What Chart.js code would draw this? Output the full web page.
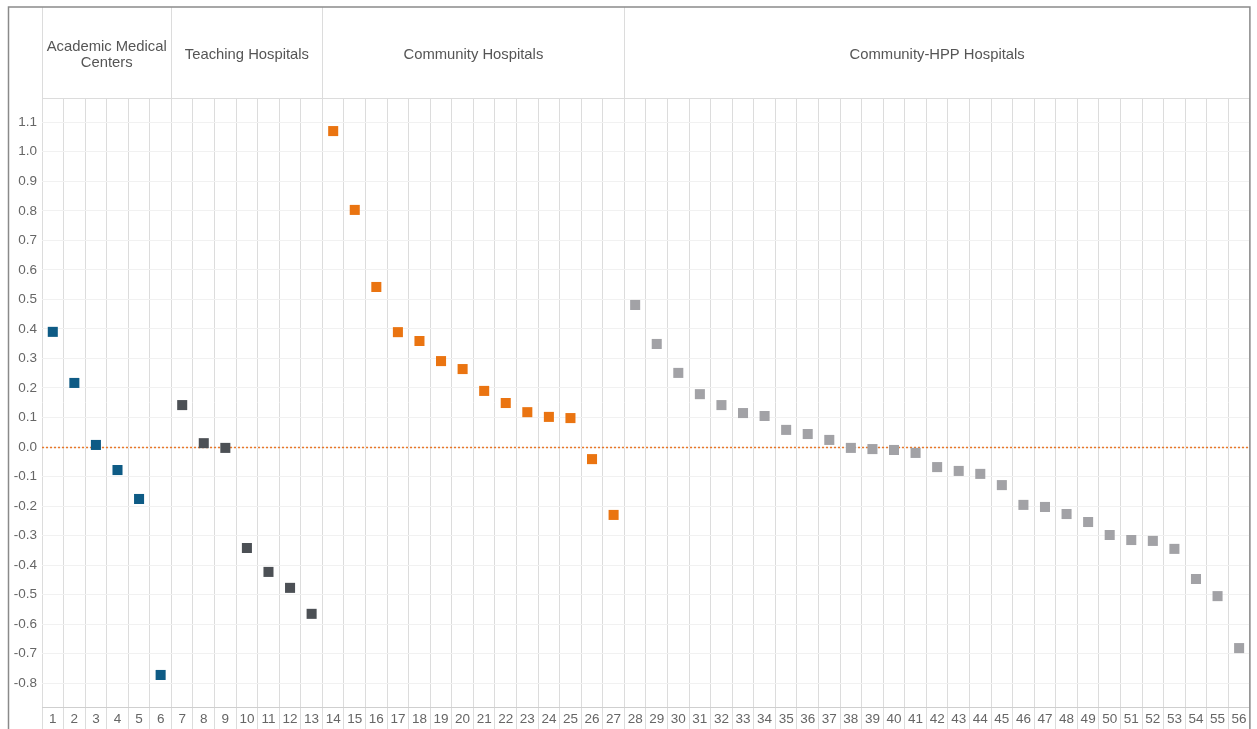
<!DOCTYPE html>
<html>
<head>
<meta charset="utf-8">
<script src="https://cdn.jsdelivr.net/npm/chart.js@4.4.1/dist/chart.umd.min.js"></script>
<style>
  html, body { margin: 0; padding: 0; background: #fff; overflow: hidden; }
  #chart { display: block; }
</style>
</head>
<body>
<canvas id="chart" width="1257" height="729"></canvas>
<script>
const hospitalIds = ['1', '2', '3', '4', '5', '6', '7', '8', '9', '10', '11', '12', '13', '14',
  '15', '16', '17', '18', '19', '20', '21', '22', '23', '24', '25', '26', '27', '28',
  '29', '30', '31', '32', '33', '34', '35', '36', '37', '38', '39', '40', '41', '42',
  '43', '44', '45', '46', '47', '48', '49', '50', '51', '52', '53', '54', '55', '56'];

const groupNames = ['Academic Medical Centers', 'Teaching Hospitals', 'Community Hospitals', 'Community-HPP Hospitals'];
const groupSizes = [6, 7, 14, 29];
const groupColors = ['#0e5b85', '#4c5055', '#ea7411', '#a2a2a6'];

const academicValues = [0.39, 0.217, 0.007, -0.078, -0.176, -0.772];
const teachingValues = [0.142, 0.013, -0.003, -0.342, -0.423, -0.477, -0.565];
const communityValues = [1.07, 0.803, 0.542, 0.389, 0.359, 0.291, 0.264, 0.19, 0.149, 0.118,
  0.102, 0.098, -0.041, -0.23];
const hppValues = [0.481, 0.349, 0.251, 0.179, 0.142, 0.115, 0.105, 0.058, 0.044, 0.024,
  -0.003, -0.007, -0.01, -0.02, -0.068, -0.081, -0.091, -0.129, -0.196, -0.203,
  -0.227, -0.254, -0.298, -0.315, -0.318, -0.345, -0.447, -0.505, -0.681];

const FONT = '"Liberation Sans", Arial, sans-serif';

// one dataset per group, placed on its run of hospital ids
const groupValues = [academicValues, teachingValues, communityValues, hppValues];
let start = 0;
const datasets = groupValues.map((vals, g) => {
  const pts = vals.map((v, i) => ({ x: hospitalIds[start + i], y: v }));
  start += groupSizes[g];
  return {
    label: groupNames[g],
    data: pts,
    showLine: false,
    pointStyle: 'rect',
    pointRadius: 7.1,
    pointHoverRadius: 7.1,
    pointBorderWidth: 0,
    pointBackgroundColor: groupColors[g],
    borderColor: groupColors[g]
  };
});

function wrapText(ctx, text, maxW) {
  const words = text.split(' ');
  const lines = [];
  let line = '';
  words.forEach(w => {
    const test = line ? line + ' ' + w : w;
    if (ctx.measureText(test).width > maxW && line) {
      lines.push(line);
      line = w;
    } else {
      line = test;
    }
  });
  if (line) lines.push(line);
  return lines;
}

const zeroLine = {
  id: 'zeroLine',
  beforeDatasetsDraw(chart) {
    const { ctx, chartArea, scales: { y } } = chart;
    const py = Math.round(y.getPixelForValue(0)) + 0.5;
    ctx.save();
    ctx.strokeStyle = '#e8782a';
    ctx.lineWidth = 1.5;
    ctx.setLineDash([2, 2]);
    ctx.beginPath();
    ctx.moveTo(chartArea.left, py);
    ctx.lineTo(chartArea.right, py);
    ctx.stroke();
    ctx.restore();
  }
};

const headerFrame = {
  id: 'headerFrame',
  afterDraw(chart) {
    const { ctx, chartArea, scales: { x } } = chart;
    const top = 7;
    const half = (x.getPixelForValue(1) - x.getPixelForValue(0)) / 2;
    ctx.save();
    ctx.strokeStyle = '#dcdcdc';
    ctx.lineWidth = 1;
    ctx.beginPath();
    ctx.moveTo(chartArea.left, chartArea.top + 0.5);
    ctx.lineTo(chartArea.right, chartArea.top + 0.5);
    ctx.stroke();

    let idx = 0;
    ctx.font = '14.8px ' + FONT;
    ctx.fillStyle = '#555';
    ctx.textAlign = 'center';
    ctx.textBaseline = 'middle';
    groupNames.forEach((name, g) => {
      const x0 = x.getPixelForValue(idx) - half;
      const x1 = x.getPixelForValue(idx + groupSizes[g] - 1) + half;
      idx += groupSizes[g];
      ctx.beginPath();
      ctx.moveTo(Math.round(x0) + 0.5, top);
      ctx.lineTo(Math.round(x0) + 0.5, chartArea.top);
      ctx.stroke();
      const lines = wrapText(ctx, name, x1 - x0 - 8);
      const midY = (top + chartArea.top) / 2 + 2;
      const lh = 16;
      lines.forEach((ln, i) => {
        ctx.fillText(ln, (x0 + x1) / 2, midY + (i - (lines.length - 1) / 2) * lh);
      });
    });

    // outer frame
    ctx.strokeStyle = '#8a8a8a';
    ctx.lineWidth = 1.5;
    ctx.beginPath();
    ctx.moveTo(8.5, chart.height);
    ctx.lineTo(8.5, top);
    ctx.lineTo(chartArea.right, top);
    ctx.lineTo(chartArea.right, chart.height);
    ctx.stroke();
    ctx.restore();
  }
};

new Chart(document.getElementById('chart'), {
  type: 'line',
  data: { labels: hospitalIds, datasets },
  options: {
    responsive: false,
    animation: false,
    layout: { padding: { top: 98, left: 8, right: 2, bottom: 0 } },
    plugins: {
      legend: { display: false },
      tooltip: { enabled: false }
    },
    scales: {
      x: {
        type: 'category',
        offset: true,
        grid: {
          offset: true,
          color: '#dcdcdc',
          lineWidth: 1,
          drawTicks: true,
          tickLength: 22,
          tickColor: '#dcdcdc'
        },
        border: { display: true, color: '#cfcfcf' },
        ticks: {
          color: '#666',
          font: { size: 13.5, family: FONT },
          padding: -18,
          maxRotation: 0,
          autoSkip: false
        },
        afterFit: s => { s.height = 22; }
      },
      y: {
        min: -0.8805,
        max: 1.182,
        afterBuildTicks: s => {
          s.ticks = s.ticks.filter(t => Math.abs(t.value * 10 - Math.round(t.value * 10)) < 1e-6);
        },
        ticks: {
          stepSize: 0.1,
          color: '#666',
          font: { size: 13.5, family: FONT },
          padding: 5,
          callback: v => (Math.abs(v) < 1e-9 ? 0 : v).toFixed(1)
        },
        grid: { color: '#f1f1f1', drawTicks: false },
        border: { display: false },
        afterFit: s => { s.width = 34; }
      }
    }
  },
  plugins: [zeroLine, headerFrame]
});
</script>
</body>
</html>
